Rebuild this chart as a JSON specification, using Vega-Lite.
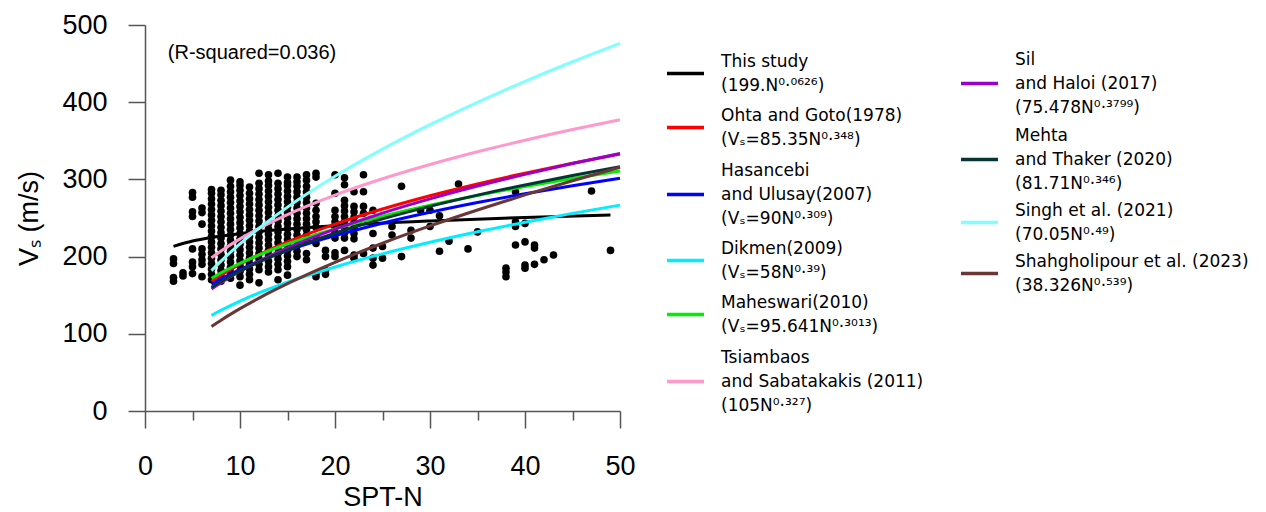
{
  "$schema": "https://vega.github.io/schema/vega-lite/v6.json",
  "width": 475,
  "height": 386,
  "autosize": {"type": "none"},
  "padding": {"left": 145, "top": 25, "right": 646, "bottom": 101},
  "config": {"font": "Liberation Sans", "view": {"stroke": null}, "axis": {"grid": false}},
  "datasets": {
    "pts": [
      {"N":3,"Vs":197},{"N":3,"Vs":191},{"N":3,"Vs":173},{"N":3,"Vs":168},
      {"N":4,"Vs":179},{"N":4,"Vs":175},
      {"N":5,"Vs":283},{"N":5,"Vs":277},{"N":5,"Vs":258},{"N":5,"Vs":252},{"N":5,"Vs":210},{"N":5,"Vs":193},{"N":5,"Vs":187},{"N":5,"Vs":178},
      {"N":6,"Vs":263},{"N":6,"Vs":257},{"N":6,"Vs":242},{"N":6,"Vs":210},{"N":6,"Vs":203},{"N":6,"Vs":196},{"N":6,"Vs":190},{"N":6,"Vs":174},
      {"N":7,"Vs":170},{"N":7,"Vs":177},{"N":7,"Vs":184},{"N":7,"Vs":191},{"N":7,"Vs":198},{"N":7,"Vs":205},{"N":7,"Vs":212},{"N":7,"Vs":219},{"N":7,"Vs":226},{"N":7,"Vs":233},{"N":7,"Vs":240},{"N":7,"Vs":247},{"N":7,"Vs":254},{"N":7,"Vs":261},{"N":7,"Vs":268},{"N":7,"Vs":275},{"N":7,"Vs":282},{"N":7,"Vs":287},
      {"N":8,"Vs":168},{"N":8,"Vs":175},{"N":8,"Vs":182},{"N":8,"Vs":189},{"N":8,"Vs":196},{"N":8,"Vs":203},{"N":8,"Vs":210},{"N":8,"Vs":217},{"N":8,"Vs":224},{"N":8,"Vs":231},{"N":8,"Vs":238},{"N":8,"Vs":245},{"N":8,"Vs":252},{"N":8,"Vs":259},{"N":8,"Vs":266},{"N":8,"Vs":273},{"N":8,"Vs":280},{"N":8,"Vs":286},
      {"N":9,"Vs":172},{"N":9,"Vs":179},{"N":9,"Vs":186},{"N":9,"Vs":193},{"N":9,"Vs":200},{"N":9,"Vs":207},{"N":9,"Vs":214},{"N":9,"Vs":221},{"N":9,"Vs":228},{"N":9,"Vs":235},{"N":9,"Vs":242},{"N":9,"Vs":249},{"N":9,"Vs":256},{"N":9,"Vs":263},{"N":9,"Vs":270},{"N":9,"Vs":277},{"N":9,"Vs":284},{"N":9,"Vs":291},{"N":9,"Vs":299},
      {"N":10,"Vs":163},{"N":10,"Vs":174},{"N":10,"Vs":181},{"N":10,"Vs":188},{"N":10,"Vs":195},{"N":10,"Vs":202},{"N":10,"Vs":209},{"N":10,"Vs":216},{"N":10,"Vs":223},{"N":10,"Vs":230},{"N":10,"Vs":237},{"N":10,"Vs":244},{"N":10,"Vs":251},{"N":10,"Vs":258},{"N":10,"Vs":265},{"N":10,"Vs":272},{"N":10,"Vs":279},{"N":10,"Vs":286},{"N":10,"Vs":292},{"N":10,"Vs":297},
      {"N":11,"Vs":170},{"N":11,"Vs":177},{"N":11,"Vs":184},{"N":11,"Vs":191},{"N":11,"Vs":198},{"N":11,"Vs":205},{"N":11,"Vs":212},{"N":11,"Vs":219},{"N":11,"Vs":226},{"N":11,"Vs":233},{"N":11,"Vs":240},{"N":11,"Vs":247},{"N":11,"Vs":254},{"N":11,"Vs":261},{"N":11,"Vs":268},{"N":11,"Vs":275},{"N":11,"Vs":282},{"N":11,"Vs":290},
      {"N":12,"Vs":166},{"N":12,"Vs":183},{"N":12,"Vs":190},{"N":12,"Vs":197},{"N":12,"Vs":204},{"N":12,"Vs":211},{"N":12,"Vs":218},{"N":12,"Vs":225},{"N":12,"Vs":232},{"N":12,"Vs":239},{"N":12,"Vs":246},{"N":12,"Vs":253},{"N":12,"Vs":260},{"N":12,"Vs":267},{"N":12,"Vs":274},{"N":12,"Vs":281},{"N":12,"Vs":288},{"N":12,"Vs":295},{"N":12,"Vs":308},
      {"N":13,"Vs":180},{"N":13,"Vs":187},{"N":13,"Vs":194},{"N":13,"Vs":201},{"N":13,"Vs":208},{"N":13,"Vs":215},{"N":13,"Vs":222},{"N":13,"Vs":229},{"N":13,"Vs":236},{"N":13,"Vs":243},{"N":13,"Vs":250},{"N":13,"Vs":257},{"N":13,"Vs":264},{"N":13,"Vs":271},{"N":13,"Vs":278},{"N":13,"Vs":285},{"N":13,"Vs":292},{"N":13,"Vs":298},{"N":13,"Vs":306},
      {"N":14,"Vs":170},{"N":14,"Vs":183},{"N":14,"Vs":190},{"N":14,"Vs":197},{"N":14,"Vs":204},{"N":14,"Vs":211},{"N":14,"Vs":218},{"N":14,"Vs":225},{"N":14,"Vs":232},{"N":14,"Vs":239},{"N":14,"Vs":246},{"N":14,"Vs":253},{"N":14,"Vs":260},{"N":14,"Vs":267},{"N":14,"Vs":274},{"N":14,"Vs":281},{"N":14,"Vs":288},{"N":14,"Vs":295},{"N":14,"Vs":308},
      {"N":15,"Vs":176},{"N":15,"Vs":187},{"N":15,"Vs":194},{"N":15,"Vs":201},{"N":15,"Vs":208},{"N":15,"Vs":215},{"N":15,"Vs":222},{"N":15,"Vs":229},{"N":15,"Vs":236},{"N":15,"Vs":243},{"N":15,"Vs":250},{"N":15,"Vs":257},{"N":15,"Vs":264},{"N":15,"Vs":271},{"N":15,"Vs":278},{"N":15,"Vs":285},{"N":15,"Vs":292},{"N":15,"Vs":296},{"N":15,"Vs":303},
      {"N":16,"Vs":200},{"N":16,"Vs":207},{"N":16,"Vs":214},{"N":16,"Vs":221},{"N":16,"Vs":228},{"N":16,"Vs":235},{"N":16,"Vs":242},{"N":16,"Vs":249},{"N":16,"Vs":256},{"N":16,"Vs":263},{"N":16,"Vs":270},{"N":16,"Vs":277},{"N":16,"Vs":284},{"N":16,"Vs":291},{"N":16,"Vs":297},{"N":16,"Vs":303},
      {"N":17,"Vs":196},{"N":17,"Vs":204},{"N":17,"Vs":221},{"N":17,"Vs":228},{"N":17,"Vs":235},{"N":17,"Vs":242},{"N":17,"Vs":249},{"N":17,"Vs":256},{"N":17,"Vs":263},{"N":17,"Vs":270},{"N":17,"Vs":277},{"N":17,"Vs":284},{"N":17,"Vs":291},{"N":17,"Vs":299},{"N":17,"Vs":306},
      {"N":18,"Vs":174},{"N":18,"Vs":178},{"N":18,"Vs":217},{"N":18,"Vs":225},{"N":18,"Vs":238},{"N":18,"Vs":245},{"N":18,"Vs":252},{"N":18,"Vs":260},{"N":18,"Vs":269},{"N":18,"Vs":303},{"N":18,"Vs":308},
      {"N":19,"Vs":208},{"N":19,"Vs":200},{"N":19,"Vs":182},{"N":19,"Vs":177},
      {"N":20,"Vs":306},{"N":20,"Vs":282},{"N":20,"Vs":260},{"N":20,"Vs":252},{"N":20,"Vs":245},{"N":20,"Vs":238},{"N":20,"Vs":231},{"N":20,"Vs":224},{"N":20,"Vs":205},{"N":20,"Vs":200},
      {"N":21,"Vs":302},{"N":21,"Vs":293},{"N":21,"Vs":273},{"N":21,"Vs":266},{"N":21,"Vs":259},{"N":21,"Vs":252},{"N":21,"Vs":245},{"N":21,"Vs":238},{"N":21,"Vs":231},{"N":21,"Vs":224},{"N":21,"Vs":208},
      {"N":22,"Vs":284},{"N":22,"Vs":265},{"N":22,"Vs":258},{"N":22,"Vs":251},{"N":22,"Vs":244},{"N":22,"Vs":237},{"N":22,"Vs":230},{"N":22,"Vs":223},{"N":22,"Vs":202},{"N":22,"Vs":198},
      {"N":23,"Vs":306},{"N":23,"Vs":284},{"N":23,"Vs":265},{"N":23,"Vs":256},{"N":23,"Vs":204},
      {"N":24,"Vs":260},{"N":24,"Vs":230},{"N":24,"Vs":211},{"N":24,"Vs":198},{"N":24,"Vs":189},
      {"N":25,"Vs":213},{"N":25,"Vs":198},
      {"N":26,"Vs":239},{"N":26,"Vs":228},
      {"N":27,"Vs":291},{"N":27,"Vs":200},
      {"N":28,"Vs":234},{"N":28,"Vs":224},
      {"N":29,"Vs":260},
      {"N":30,"Vs":260},{"N":30,"Vs":239},
      {"N":31,"Vs":253},{"N":31,"Vs":207},
      {"N":32,"Vs":220},
      {"N":33,"Vs":294},
      {"N":34,"Vs":210},
      {"N":35,"Vs":232},
      {"N":38,"Vs":185},{"N":38,"Vs":180},{"N":38,"Vs":174},
      {"N":39,"Vs":284},{"N":39,"Vs":245},{"N":39,"Vs":239},{"N":39,"Vs":215},
      {"N":40,"Vs":243},{"N":40,"Vs":219},{"N":40,"Vs":189},{"N":40,"Vs":185},
      {"N":41,"Vs":215},{"N":41,"Vs":211},{"N":41,"Vs":190},
      {"N":42,"Vs":196},
      {"N":43,"Vs":202},
      {"N":47,"Vs":285},
      {"N":49,"Vs":208}
    ],
    "curvesA": [
      {"study":"This study","N":3,"Vs":213.2},{"study":"This study","N":5,"Vs":220.1},{"study":"This study","N":7,"Vs":224.8},{"study":"This study","N":10,"Vs":229.8},{"study":"This study","N":15,"Vs":235.8},{"study":"This study","N":20,"Vs":240.1},{"study":"This study","N":30,"Vs":246.2},{"study":"This study","N":40,"Vs":250.7},{"study":"This study","N":49,"Vs":253.9},
      {"study":"Ohta and Goto (1978)","N":7,"Vs":168.0},{"study":"Ohta and Goto (1978)","N":8,"Vs":176.0},{"study":"Ohta and Goto (1978)","N":10,"Vs":190.2},{"study":"Ohta and Goto (1978)","N":12,"Vs":202.6},{"study":"Ohta and Goto (1978)","N":15,"Vs":219.0},{"study":"Ohta and Goto (1978)","N":20,"Vs":242.1},{"study":"Ohta and Goto (1978)","N":25,"Vs":261.6},{"study":"Ohta and Goto (1978)","N":30,"Vs":278.8},{"study":"Ohta and Goto (1978)","N":35,"Vs":294.1},{"study":"Ohta and Goto (1978)","N":40,"Vs":308.1},{"study":"Ohta and Goto (1978)","N":45,"Vs":321.0},{"study":"Ohta and Goto (1978)","N":50,"Vs":333.0},
      {"study":"Hasancebi and Ulusay (2007)","N":7,"Vs":164.2},{"study":"Hasancebi and Ulusay (2007)","N":8,"Vs":171.1},{"study":"Hasancebi and Ulusay (2007)","N":10,"Vs":183.3},{"study":"Hasancebi and Ulusay (2007)","N":12,"Vs":194.0},{"study":"Hasancebi and Ulusay (2007)","N":15,"Vs":207.8},{"study":"Hasancebi and Ulusay (2007)","N":20,"Vs":227.1},{"study":"Hasancebi and Ulusay (2007)","N":25,"Vs":243.3},{"study":"Hasancebi and Ulusay (2007)","N":30,"Vs":257.4},{"study":"Hasancebi and Ulusay (2007)","N":35,"Vs":270.0},{"study":"Hasancebi and Ulusay (2007)","N":40,"Vs":281.4},{"study":"Hasancebi and Ulusay (2007)","N":45,"Vs":291.8},{"study":"Hasancebi and Ulusay (2007)","N":50,"Vs":301.4},
      {"study":"Dikmen (2009)","N":7,"Vs":123.9},{"study":"Dikmen (2009)","N":8,"Vs":130.5},{"study":"Dikmen (2009)","N":10,"Vs":142.4},{"study":"Dikmen (2009)","N":12,"Vs":152.9},{"study":"Dikmen (2009)","N":15,"Vs":166.8},{"study":"Dikmen (2009)","N":20,"Vs":186.6},{"study":"Dikmen (2009)","N":25,"Vs":203.5},{"study":"Dikmen (2009)","N":30,"Vs":218.5},{"study":"Dikmen (2009)","N":35,"Vs":232.1},{"study":"Dikmen (2009)","N":40,"Vs":244.5},{"study":"Dikmen (2009)","N":45,"Vs":256.0},{"study":"Dikmen (2009)","N":50,"Vs":266.7},
      {"study":"Maheswari (2010)","N":7,"Vs":171.9},{"study":"Maheswari (2010)","N":8,"Vs":179.0},{"study":"Maheswari (2010)","N":10,"Vs":191.4},{"study":"Maheswari (2010)","N":12,"Vs":202.2},{"study":"Maheswari (2010)","N":15,"Vs":216.3},{"study":"Maheswari (2010)","N":20,"Vs":235.9},{"study":"Maheswari (2010)","N":25,"Vs":252.3},{"study":"Maheswari (2010)","N":30,"Vs":266.5},{"study":"Maheswari (2010)","N":35,"Vs":279.2},{"study":"Maheswari (2010)","N":40,"Vs":290.7},{"study":"Maheswari (2010)","N":45,"Vs":301.1},{"study":"Maheswari (2010)","N":50,"Vs":310.9},
      {"study":"Tsiambaos and Sabatakakis (2011)","N":7,"Vs":198.4},{"study":"Tsiambaos and Sabatakakis (2011)","N":8,"Vs":207.3},{"study":"Tsiambaos and Sabatakakis (2011)","N":10,"Vs":223.0},{"study":"Tsiambaos and Sabatakakis (2011)","N":12,"Vs":236.6},{"study":"Tsiambaos and Sabatakakis (2011)","N":15,"Vs":254.5},{"study":"Tsiambaos and Sabatakakis (2011)","N":20,"Vs":279.7},{"study":"Tsiambaos and Sabatakakis (2011)","N":25,"Vs":300.8},{"study":"Tsiambaos and Sabatakakis (2011)","N":30,"Vs":319.3},{"study":"Tsiambaos and Sabatakakis (2011)","N":35,"Vs":335.8},{"study":"Tsiambaos and Sabatakakis (2011)","N":40,"Vs":350.8},{"study":"Tsiambaos and Sabatakakis (2011)","N":45,"Vs":364.6},{"study":"Tsiambaos and Sabatakakis (2011)","N":50,"Vs":377.3}
    ],
    "curvesB": [
      {"study":"Sil and Haloi (2017)","N":7,"Vs":158.1},{"study":"Sil and Haloi (2017)","N":8,"Vs":166.3},{"study":"Sil and Haloi (2017)","N":10,"Vs":181.0},{"study":"Sil and Haloi (2017)","N":12,"Vs":194.0},{"study":"Sil and Haloi (2017)","N":15,"Vs":211.2},{"study":"Sil and Haloi (2017)","N":20,"Vs":235.6},{"study":"Sil and Haloi (2017)","N":25,"Vs":256.4},{"study":"Sil and Haloi (2017)","N":30,"Vs":274.8},{"study":"Sil and Haloi (2017)","N":35,"Vs":291.4},{"study":"Sil and Haloi (2017)","N":40,"Vs":306.5},{"study":"Sil and Haloi (2017)","N":45,"Vs":320.6},{"study":"Sil and Haloi (2017)","N":50,"Vs":333.6},
      {"study":"Mehta and Thaker (2020)","N":7,"Vs":160.2},{"study":"Mehta and Thaker (2020)","N":8,"Vs":167.8},{"study":"Mehta and Thaker (2020)","N":10,"Vs":181.2},{"study":"Mehta and Thaker (2020)","N":12,"Vs":193.0},{"study":"Mehta and Thaker (2020)","N":15,"Vs":208.5},{"study":"Mehta and Thaker (2020)","N":20,"Vs":230.4},{"study":"Mehta and Thaker (2020)","N":25,"Vs":248.9},{"study":"Mehta and Thaker (2020)","N":30,"Vs":265.1},{"study":"Mehta and Thaker (2020)","N":35,"Vs":279.6},{"study":"Mehta and Thaker (2020)","N":40,"Vs":292.8},{"study":"Mehta and Thaker (2020)","N":45,"Vs":305.0},{"study":"Mehta and Thaker (2020)","N":50,"Vs":316.3},
      {"study":"Singh et al. (2021)","N":7,"Vs":181.8},{"study":"Singh et al. (2021)","N":8,"Vs":194.1},{"study":"Singh et al. (2021)","N":10,"Vs":216.5},{"study":"Singh et al. (2021)","N":12,"Vs":236.7},{"study":"Singh et al. (2021)","N":15,"Vs":264.1},{"study":"Singh et al. (2021)","N":20,"Vs":304.0},{"study":"Singh et al. (2021)","N":25,"Vs":339.2},{"study":"Singh et al. (2021)","N":30,"Vs":370.9},{"study":"Singh et al. (2021)","N":35,"Vs":399.9},{"study":"Singh et al. (2021)","N":40,"Vs":427.0},{"study":"Singh et al. (2021)","N":45,"Vs":452.4},{"study":"Singh et al. (2021)","N":50,"Vs":476.3},
      {"study":"Shahgholipour et al. (2023)","N":7,"Vs":109.4},{"study":"Shahgholipour et al. (2023)","N":8,"Vs":117.6},{"study":"Shahgholipour et al. (2023)","N":10,"Vs":132.6},{"study":"Shahgholipour et al. (2023)","N":12,"Vs":146.3},{"study":"Shahgholipour et al. (2023)","N":15,"Vs":165.0},{"study":"Shahgholipour et al. (2023)","N":20,"Vs":192.6},{"study":"Shahgholipour et al. (2023)","N":25,"Vs":217.3},{"study":"Shahgholipour et al. (2023)","N":30,"Vs":239.7},{"study":"Shahgholipour et al. (2023)","N":35,"Vs":260.4},{"study":"Shahgholipour et al. (2023)","N":40,"Vs":279.9},{"study":"Shahgholipour et al. (2023)","N":45,"Vs":298.3},{"study":"Shahgholipour et al. (2023)","N":50,"Vs":315.7}
    ],
    "note": [{"text": "(R-squared=0.036)"}]
  },
  "layer": [
    {
      "data": {"name": "pts"},
      "mark": {"type": "circle", "size": 58, "color": "#000000", "opacity": 1},
      "encoding": {
        "x": {
          "field": "N", "type": "quantitative", "title": "SPT-N",
          "scale": {"domain": [0, 50], "nice": false, "zero": false},
          "axis": {
            "values": [0, 5, 10, 15, 20, 25, 30, 35, 40, 45, 50],
            "labelExpr": "datum.value % 10 === 0 ? datum.label : ''",
            "tickSize": {"condition": {"test": "datum.value % 10 !== 0", "value": 9}, "value": 17},
            "labelFontSize": 27, "titleFontSize": 27, "titleFontWeight": "normal",
            "labelPadding": 25, "titlePadding": 5,
            "domainColor": "#555555", "tickColor": "#555555", "domainWidth": 1.5, "tickWidth": 1.5,
            "labelColor": "#000000", "titleColor": "#000000",
            "labelFlush": false, "labelOverlap": false
          }
        },
        "y": {
          "field": "Vs", "type": "quantitative", "title": "Vₛ (m/s)",
          "scale": {"domain": [0, 500], "nice": false, "zero": false},
          "axis": {
            "values": [0, 50, 100, 150, 200, 250, 300, 350, 400, 450, 500],
            "labelExpr": "datum.value % 100 === 0 ? datum.label : ''",
            "tickSize": {"condition": {"test": "datum.value % 100 !== 0", "value": 9}, "value": 17},
            "labelFontSize": 27, "titleFontSize": 27, "titleFontWeight": "normal",
            "labelPadding": 21, "titlePadding": 18,
            "domainColor": "#555555", "tickColor": "#555555", "domainWidth": 1.5, "tickWidth": 1.5,
            "labelColor": "#000000", "titleColor": "#000000",
            "labelFlush": false, "labelOverlap": false
          }
        }
      }
    },
    {
      "data": {"name": "curvesA"},
      "mark": {"type": "line", "interpolate": "monotone", "strokeWidth": 3},
      "encoding": {
        "x": {"field": "N", "type": "quantitative", "title": "SPT-N"},
        "y": {"field": "Vs", "type": "quantitative", "title": "Vₛ (m/s)"},
        "color": {
          "field": "study", "type": "nominal",
          "scale": {
            "domain": ["This study", "Ohta and Goto (1978)", "Hasancebi and Ulusay (2007)", "Dikmen (2009)", "Maheswari (2010)", "Tsiambaos and Sabatakakis (2011)"],
            "range": ["#000000", "#ff0000", "#0000ff", "#00eeff", "#00ee00", "#ff99cc"]
          },
          "legend": {
            "orient": "none", "legendX": 520, "legendY": 28, "title": null, "padding": 0,
            "labelExpr": "datum.label === 'This study' ? ['This study', '(199.N⁰·⁰⁶²⁶)'] : datum.label === 'Ohta and Goto (1978)' ? ['Ohta and Goto(1978)', ' (Vₛ=85.35N⁰·³⁴⁸)'] : datum.label === 'Hasancebi and Ulusay (2007)' ? ['Hasancebi', 'and Ulusay(2007)', '(Vₛ=90N⁰·³⁰⁹)'] : datum.label === 'Dikmen (2009)' ? ['Dikmen(2009)', '(Vₛ=58N⁰·³⁹)'] : datum.label === 'Maheswari (2010)' ? ['Maheswari(2010)', '(Vₛ=95.641N⁰·³⁰¹³)'] : ['Tsiambaos', 'and Sabatakakis (2011)', '(105N⁰·³²⁷)']",
            "labelFont": "DejaVu Sans",
            "labelFontSize": 17, "labelLimit": 400, "labelColor": "#000000",
            "symbolType": "stroke", "symbolSize": 1369, "symbolStrokeWidth": 3.5,
            "labelOffset": 15, "rowPadding": 13,
            "encode": {
              "labels": {
                "update": {
                  "lineHeight": {"value": 24},
                  "dy": {"signal": "datum.index === 2 || datum.index === 5 ? -24 : -11.5"}
                }
              }
            }
          }
        }
      }
    },
    {
      "data": {"name": "curvesB"},
      "mark": {"type": "line", "interpolate": "monotone", "strokeWidth": 3},
      "encoding": {
        "x": {"field": "N", "type": "quantitative", "title": "SPT-N"},
        "y": {"field": "Vs", "type": "quantitative", "title": "Vₛ (m/s)"},
        "stroke": {
          "field": "study", "type": "nominal",
          "scale": {
            "domain": ["Sil and Haloi (2017)", "Mehta and Thaker (2020)", "Singh et al. (2021)", "Shahgholipour et al. (2023)"],
            "range": ["#9900cc", "#053535", "#80ffff", "#6b3636"]
          },
          "legend": {
            "orient": "none", "legendX": 814, "legendY": 38, "title": null, "padding": 0,
            "labelExpr": "datum.label === 'Sil and Haloi (2017)' ? ['Sil', 'and Haloi (2017)', '(75.478N⁰·³⁷⁹⁹)'] : datum.label === 'Mehta and Thaker (2020)' ? ['Mehta', 'and Thaker (2020)', '(81.71N⁰·³⁴⁶)'] : datum.label === 'Singh et al. (2021)' ? ['Singh et al. (2021)', '(70.05N⁰·⁴⁹)'] : ['Shahgholipour et al. (2023)', '(38.326N⁰·⁵³⁹)']",
            "labelFont": "DejaVu Sans",
            "labelFontSize": 17, "labelLimit": 400, "labelColor": "#000000",
            "symbolType": "stroke", "symbolSize": 1369, "symbolStrokeWidth": 3.5,
            "labelOffset": 15, "rowPadding": 10,
            "encode": {
              "labels": {
                "update": {
                  "lineHeight": {"value": 24},
                  "dy": {"signal": "datum.index <= 1 ? -24 : -11.5"}
                }
              }
            }
          }
        }
      }
    },
    {
      "data": {"name": "note"},
      "mark": {"type": "text", "align": "left", "baseline": "middle", "fontSize": 20, "color": "#000000"},
      "encoding": {
        "x": {"datum": 2.4, "type": "quantitative", "title": "SPT-N"},
        "y": {"datum": 464, "type": "quantitative", "title": "Vₛ (m/s)"},
        "text": {"field": "text"}
      }
    }
  ]
}
